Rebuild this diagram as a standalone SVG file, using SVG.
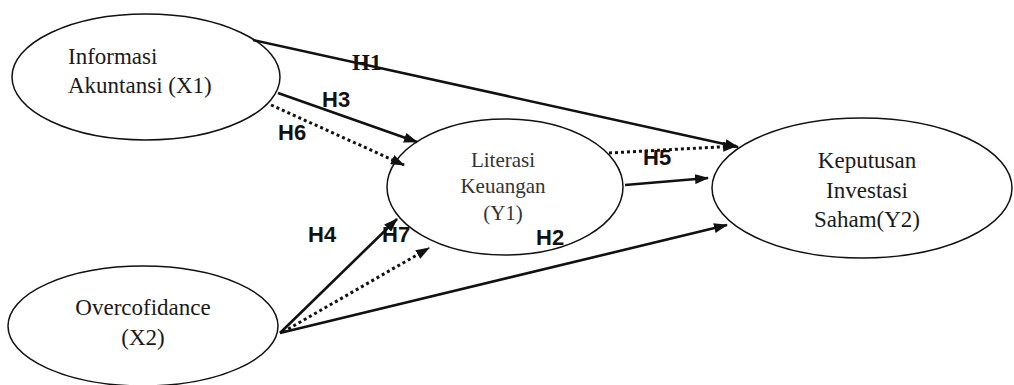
<svg xmlns="http://www.w3.org/2000/svg" width="1014" height="385" viewBox="0 0 1014 385">
<style>
.node{fill:#fff;stroke:#111;stroke-width:1.5}
.nt{font-family:"Times New Roman","Liberation Serif","DejaVu Serif",serif;font-size:23px;fill:#1a1a1a}
.solid{stroke:#111;stroke-width:2.6;fill:none}
.dot{stroke:#111;stroke-width:3;fill:none;stroke-dasharray:3 3}
.lbl{font-family:"Liberation Sans",Arial,sans-serif;font-weight:bold;font-size:22px;fill:#111}
.lbls{font-family:"Times New Roman","Liberation Serif",serif;font-weight:bold;font-size:23px;fill:#111}
</style>
<defs>
<marker id="ah" markerUnits="userSpaceOnUse" markerWidth="14" markerHeight="10" refX="13" refY="5" orient="auto">
<path d="M0,0 L14,5 L0,10 z" fill="#111"/>
</marker>
</defs>
<rect width="1014" height="385" fill="#fff"/>
<g id="X1">
<ellipse class="node" cx="146" cy="77" rx="134" ry="63"/>
<text class="nt" x="68" y="64">Informasi</text>
<text class="nt" x="68" y="93">Akuntansi (X1)</text>
</g>
<g id="X2">
<ellipse class="node" cx="143" cy="326" rx="135" ry="60"/>
<text class="nt" x="143" y="315" text-anchor="middle">Overcofidance</text>
<text class="nt" x="143" y="345" text-anchor="middle">(X2)</text>
</g>
<g id="Y1">
<ellipse class="node" cx="505" cy="187" rx="118" ry="68"/>
<text class="nt" x="503" y="167" text-anchor="middle" style="font-size:21px;fill:#333">Literasi</text>
<text class="nt" x="503" y="193" text-anchor="middle" style="font-size:21px;fill:#333">Keuangan</text>
<text class="nt" x="503" y="220" text-anchor="middle" style="font-size:21px;fill:#333">(Y1)</text>
</g>
<g id="Y2">
<ellipse class="node" cx="862" cy="188" rx="150" ry="70"/>
<text class="nt" x="867" y="168" text-anchor="middle">Keputusan</text>
<text class="nt" x="867" y="198" text-anchor="middle">Investasi</text>
<text class="nt" x="867" y="227" text-anchor="middle">Saham(Y2)</text>
</g>
<g id="connectors">
<line class="solid" x1="253" y1="40" x2="738" y2="147" marker-end="url(#ah)"/>
<line class="solid" x1="278" y1="93" x2="417" y2="142" marker-end="url(#ah)"/>
<line class="dot" x1="271" y1="105" x2="404" y2="165" marker-end="url(#ah)"/>
<line class="dot" x1="609" y1="153" x2="736" y2="146" marker-end="url(#ah)"/>
<line class="solid" x1="625" y1="185" x2="708" y2="178" marker-end="url(#ah)"/>
<line class="solid" x1="280" y1="333" x2="727" y2="225" marker-end="url(#ah)"/>
<line class="solid" x1="280" y1="333" x2="397" y2="219" marker-end="url(#ah)"/>
<line class="dot" x1="283" y1="332" x2="429" y2="248" marker-end="url(#ah)"/>
</g>
<g id="labels">
<text class="lbls" x="352" y="70">H1</text>
<text class="lbl" x="322" y="107">H3</text>
<text class="lbl" x="278" y="140">H6</text>
<text class="lbl" x="643" y="165">H5</text>
<text class="lbl" x="536" y="245">H2</text>
<text class="lbl" x="308" y="242">H4</text>
<text class="lbl" x="382" y="242">H7</text>
</g>
</svg>
